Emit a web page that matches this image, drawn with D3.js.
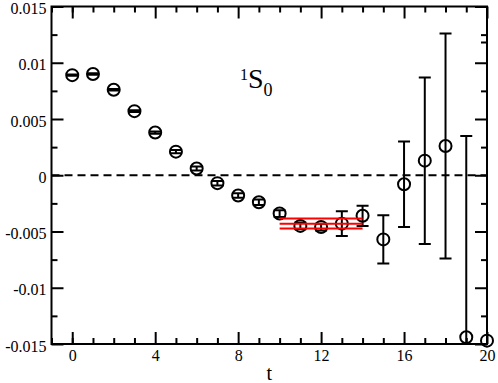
<!DOCTYPE html>
<html><head><meta charset="utf-8">
<script src="https://cdn.jsdelivr.net/npm/d3@7"></script>
<style>
html,body{margin:0;padding:0;background:#fff;}
svg{display:block;}
text{font-family:"Liberation Serif","Times New Roman",serif;fill:#000;}
</style></head>
<body>
<svg id="c" width="498" height="383"></svg>
<script>
// ---- data ----
const tVals = [0,1,2,3,4,5,6,7,8,9,10,11,12,13,14,15,16,17,18,19,20];
const corr  = [0.0089,0.0090,0.0076,0.0057,0.0038,0.0021,0.0006,-0.0007,-0.0018,-0.0024,-0.0034,-0.0045,-0.0046,-0.0043,-0.0036,-0.0057,-0.0008,0.0013,0.0026,-0.0144,-0.0147];
const errs  = [0.00006,0.00006,0.00007,0.00008,0.0001,0.00014,0.00018,0.0002,0.0002,0.00025,0.0003,0.0003,0.0003,0.0011,0.0009,0.00215,0.0038,0.0074,0.0100,0.0179,0.0265];
const fitRange = [10,14];
const fitLines = [-0.00385,-0.0043,-0.00473];
const xMajorTicks = [0,4,8,12,16,20];
const xMinorTicks = [-1,0,1,2,3,5,6,7,9,10,11,13,14,15,17,18,19];
const yMajorTicks = [-0.015,-0.01,-0.005,0,0.005,0.01,0.015];
const yTickLabels = ["-0.015","-0.01","-0.005","0","0.005","0.01","0.015"];
const yMinorTicks = [-0.0125,-0.0075,-0.0025,0.0025,0.0075,0.0125];
const xLabel = "t";

// ---- layout ----
const L = 51.5, R = 487, T = 6.5, B = 344;
const svg = d3.select("#c");
const x = d3.scaleLinear().domain([-1,20]).range([L,R]);
const y = d3.scaleLinear().domain([-0.015,0.015]).range([B,T]);

svg.append("defs").append("clipPath").attr("id","clip")
  .append("rect").attr("x",L).attr("y",T).attr("width",R-L).attr("height",B-T);

function styleAxis(g){
  g.select(".domain").remove();
  g.selectAll(".tick line").attr("stroke","#000").attr("stroke-width",2);
  g.selectAll("text").style("font-size","16px").style("font-family","Liberation Serif, serif");
}
// major axes
svg.append("g").attr("transform",`translate(0,${B})`)
  .call(d3.axisBottom(x).tickValues(xMajorTicks).tickSizeInner(-12).tickSizeOuter(0).tickPadding(6).tickFormat(d3.format("d")))
  .call(styleAxis);
svg.append("g").attr("transform",`translate(0,${T})`)
  .call(d3.axisTop(x).tickValues(xMajorTicks).tickSizeInner(-12).tickSizeOuter(0).tickFormat(""))
  .call(styleAxis);
svg.append("g").attr("transform",`translate(${L},0)`)
  .call(d3.axisLeft(y).tickValues(yMajorTicks).tickSizeInner(-12).tickSizeOuter(0).tickPadding(5)
    .tickFormat((d,i)=>yTickLabels[i]))
  .call(styleAxis)
  .call(g=>g.selectAll("text").attr("dy","0.45em"));
svg.append("g").attr("transform",`translate(${R},0)`)
  .call(d3.axisRight(y).tickValues(yMajorTicks).tickSizeInner(-12).tickSizeOuter(0).tickFormat(""))
  .call(styleAxis);
// minor
svg.append("g").attr("transform",`translate(0,${B})`)
  .call(d3.axisBottom(x).tickValues(xMinorTicks).tickSizeInner(-6).tickSizeOuter(0).tickFormat(""))
  .call(styleAxis);
svg.append("g").attr("transform",`translate(0,${T})`)
  .call(d3.axisTop(x).tickValues(xMinorTicks).tickSizeInner(-6).tickSizeOuter(0).tickFormat(""))
  .call(styleAxis);
svg.append("g").attr("transform",`translate(${L},0)`)
  .call(d3.axisLeft(y).tickValues(yMinorTicks).tickSizeInner(-6).tickSizeOuter(0).tickFormat(""))
  .call(styleAxis);
svg.append("g").attr("transform",`translate(${R},0)`)
  .call(d3.axisRight(y).tickValues(yMinorTicks).tickSizeInner(-6).tickSizeOuter(0).tickFormat(""))
  .call(styleAxis);

// zero dashed line
svg.append("line").attr("x1",L).attr("x2",R).attr("y1",y(0)).attr("y2",y(0))
  .attr("stroke","#000").attr("stroke-width",2).attr("stroke-dasharray","8,5");

// error bars
const pts = tVals.map((t,i)=>({t, v:corr[i], e:errs[i]}));
const eb = svg.append("g").attr("clip-path","url(#clip)");
const cap = 6;
eb.selectAll("path").data(pts).join("path")
  .attr("d",d=>{
    const cx=x(d.t), y1=y(d.v+d.e), y2=y(d.v-d.e);
    return `M${cx},${y1}V${y2}M${cx-cap},${y1}H${cx+cap}M${cx-cap},${y2}H${cx+cap}`;
  })
  .attr("fill","none").attr("stroke","#000").attr("stroke-width",2);

// symbols
svg.append("g").selectAll("circle").data(pts).join("circle")
  .attr("cx",d=>x(d.t)).attr("cy",d=>y(d.v)).attr("r",6)
  .attr("fill","none").attr("stroke","#000").attr("stroke-width",2);

// fit lines (on top)
svg.append("g").selectAll("line").data(fitLines).join("line")
  .attr("x1",x(fitRange[0])).attr("x2",x(fitRange[1]))
  .attr("y1",d=>y(d)).attr("y2",d=>y(d))
  .attr("stroke","#ff0000").attr("stroke-width",2);

// frame
svg.append("rect").attr("x",L).attr("y",T).attr("width",R-L).attr("height",B-T)
  .attr("fill","none").attr("stroke","#000").attr("stroke-width",2);

// annotation 1S0
const ann = svg.append("text").attr("x",240).attr("y",88);
ann.append("tspan").text("1").style("font-size","16px").attr("dy",-8);
ann.append("tspan").text("S").style("font-size","28px").attr("dy",8);
ann.append("tspan").text("0").style("font-size","18px").attr("dy",8);

// x label
svg.append("text").attr("x",(L+R)/2).attr("y",380).attr("text-anchor","middle")
  .style("font-size","20px").text(xLabel);
</script>
</body></html>
